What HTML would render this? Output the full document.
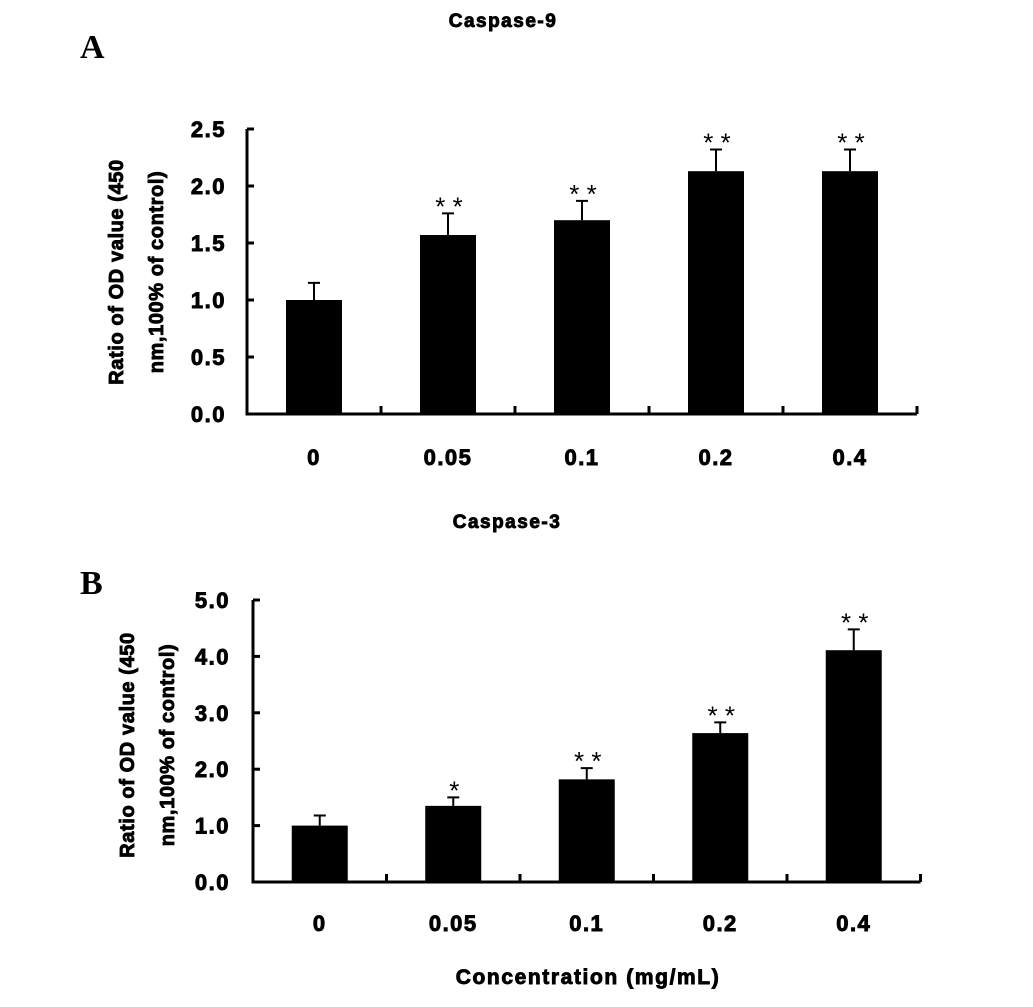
<!DOCTYPE html>
<html><head><meta charset="utf-8"><style>
html,body{margin:0;padding:0;background:#fff}
svg{display:block}
text{font-family:"Liberation Sans",Arial,sans-serif;font-weight:bold;fill:#000}
.hv{stroke:#000;stroke-width:0.9px}
.tk{letter-spacing:1.5px}
</style></head><body>
<svg id="chart" width="1033" height="1007" viewBox="0 0 1033 1007">
<text x="80" y="58" style="font-family:'Liberation Serif',serif;font-size:34px">A</text>
<text x="503" y="27" text-anchor="middle" font-size="19" class="hv" style="letter-spacing:1.5px">Caspase-9</text>
<text x="507" y="528" text-anchor="middle" font-size="19" class="hv" style="letter-spacing:1.5px">Caspase-3</text>
<text x="80" y="594" style="font-family:'Liberation Serif',serif;font-size:34px">B</text>
<text x="588" y="984" text-anchor="middle" font-size="21" class="hv" style="letter-spacing:1.6px">Concentration (mg/mL)</text>
<g transform="translate(123,272) rotate(-90)">
<text x="0" y="0" text-anchor="middle" font-size="20" class="hv" style="letter-spacing:0.6px">Ratio of OD value (450</text>
<text x="0" y="40" text-anchor="middle" font-size="20" class="hv" style="letter-spacing:0.6px">nm,100% of control)</text>
</g>
<g transform="translate(134,745) rotate(-90)">
<text x="0" y="0" text-anchor="middle" font-size="20" class="hv" style="letter-spacing:0.6px">Ratio of OD value (450</text>
<text x="0" y="40" text-anchor="middle" font-size="20" class="hv" style="letter-spacing:0.6px">nm,100% of control)</text>
</g>
<g id="pa"></g><g id="pb"></g>
</svg>
<script>
const categories = ["0","0.05","0.1","0.2","0.4"];
const valuesA = [1.0,1.57,1.70,2.13,2.13];
const errorsA = [0.15,0.19,0.17,0.19,0.19];
const starsA = ["","* *","* *","* *","* *"];
const ticksA = ["0.0","0.5","1.0","1.5","2.0","2.5"];
const ticksAVals = [0,0.5,1,1.5,2,2.5];
const valuesB = [1.0,1.35,1.82,2.64,4.11];
const errorsB = [0.18,0.15,0.2,0.19,0.37];
const starsB = ["","*","* *","* *","* *"];
const ticksB = ["0.0","1.0","2.0","3.0","4.0","5.0"];
const ticksBVals = [0,1,2,3,4,5];
const NS="http://www.w3.org/2000/svg";
function mk(tag,attrs,parent){const e=document.createElementNS(NS,tag);for(const k in attrs)e.setAttribute(k,attrs[k]);parent.appendChild(e);return e;}
function panel(g,cfg,vals,errs,stars,tickL,tickV,p){
  const y=v=>cfg.y0-(v/cfg.max)*(cfg.y0-cfg.yTop);
  const x=i=>cfg.x0+cfg.cw*(i+0.5);
  const ax=mk('path',{d:`M${cfg.x0} ${y(cfg.max)}H${cfg.x0+5}M${cfg.x0} ${y(cfg.max)}V${cfg.y0}H${cfg.x0+cfg.cw*5}`,stroke:'#000','stroke-width':3,fill:'none'},g);
  
  
  tickV.forEach((v,i)=>{
    const t=mk('line',{x1:cfg.x0,x2:cfg.x0+7,y1:y(v),y2:y(v),stroke:'#000','stroke-width':3},g);
    
    
    const l=mk('text',{x:cfg.lx,y:y(v)+8,'text-anchor':'end','font-size':22,'class':'hv tk'},g);l.textContent=tickL[i];
    
    
  });
  for(let i=1;i<=5;i++){
    const t=mk('line',{x1:cfg.x0+cfg.cw*i,x2:cfg.x0+cfg.cw*i,y1:cfg.y0,y2:cfg.y0-8,stroke:'#000','stroke-width':3},g);
    
    
  }
  categories.forEach((c,i)=>{
    const cx=x(i),bw=56;
    const b=mk('rect',{x:cx-bw/2,y:y(vals[i]),width:bw,height:cfg.y0-y(vals[i]),fill:'#000'},g);
    
    
    const et=y(vals[i]+errs[i]);
    const e=mk('path',{d:`M${cx} ${y(vals[i])}V${et}M${cx-6} ${et}H${cx+6}`,stroke:'#000','stroke-width':2,fill:'none'},g);
    
    
    if(stars[i]){const s=mk('text',{x:cx+1,y:et+2,'text-anchor':'middle','font-size':26,style:'font-weight:normal'},g);s.textContent=stars[i];
      
      }
    const l=mk('text',{x:cx,y:cfg.xly,'text-anchor':'middle','font-size':22,'class':'hv tk'},g);l.textContent=c;
    
    
  });
}
panel(document.getElementById('pa'),{x0:247,cw:134,y0:414,yTop:129,max:2.5,lx:226,xly:465},valuesA,errorsA,starsA,ticksA,ticksAVals,'a');
panel(document.getElementById('pb'),{x0:253,cw:133.5,y0:882,yTop:600,max:5,lx:230,xly:931},valuesB,errorsB,starsB,ticksB,ticksBVals,'b');
</script>
</body></html>
